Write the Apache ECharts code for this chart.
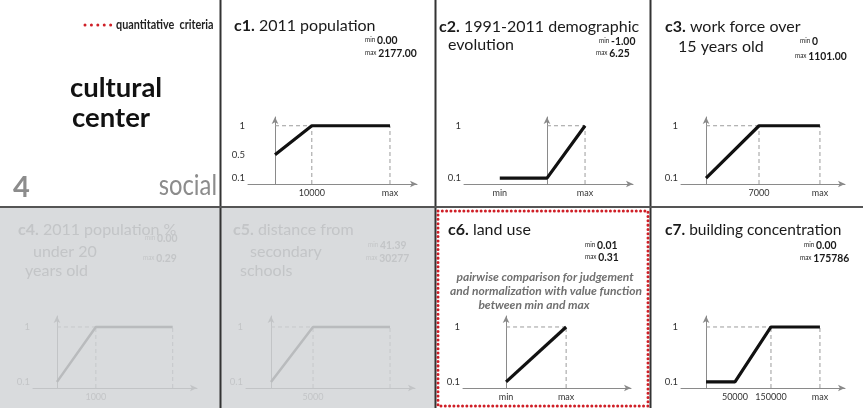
<!DOCTYPE html>
<html>
<head>
<meta charset="utf-8">
<script src="https://cdn.jsdelivr.net/npm/echarts@6/dist/echarts.min.js"></script>
<style>
html, body { margin: 0; padding: 0; background: #fff; }
#chart { width: 863px; height: 408px; }
</style>
</head>
<body>
<div id="chart"></div>
<script>
// ---- criteria of the "cultural center" (social) scheme ----
const codes = ['c1.', 'c2.', 'c3.', 'c4.', 'c5.', 'c6.', 'c7.'];
const titleFirst = ['2011 population', '1991-2011 demographic', 'work force over', '2011 population %', 'distance from', 'land use', 'building concentration'];
const titleMore = [[], ['evolution'], ['15 years old'], ['under 20', 'years old'], ['secondary', 'schools'], [], []];
const minValues = ['0.00', '-1.00', '0', '0.00', '41.39', '0.01', '0.00'];
const maxValues = ['2177.00', '6.25', '1101.00', '0.29', '30277', '0.31', '175786'];
// criteria still in use (c4, c5 are greyed out)
const active = [true, true, true, false, false, true, true];

// value functions: knots on a schematic axis (y axis at 0, "max" at 1), score 0.1..1
const knotX = [[0, 0.32, 1], [-1.24, 0, 1], [0, 0.465, 1], [0, 0.336, 1], [0, 0.353, 1], [0, 1], [0, 0.254, 0.57, 1]];
const knotY = [[0.5, 1, 1], [0.1, 0.1, 1], [0.1, 1, 1], [0.1, 1, 1], [0.1, 1, 1], [0.1, 1], [0.1, 0.1, 1, 1]];
const xTickAt = [[0.32, 1], [-1.24, 1], [0.465, 1], [0.336], [0.353], [0, 1], [0.254, 0.57, 1]];
const xTickText = [['10000', 'max'], ['min', 'max'], ['7000', 'max'], ['1000'], ['5000'], ['min', 'max'], ['50000', '150000', 'max']];
const yTickAt = [[0.1, 0.5, 1], [0.1, 1], [0.1, 1], [0.1, 1], [0.1, 1], [0.1, 1], [0.1, 1]];

// ---- layout ----
const layout = [
  { grid: [248, 117, 169, 67], xr: [-0.235, 1.235], yMax: 1.15, title: [234, 26], more: [], min: [365, 40], max: [365, 53] },
  { grid: [464, 117, 169, 67], xr: [-2.18, 2.26], yMax: 1.15, title: [439, 27], more: [[448, 45]], min: [599, 41], max: [596, 53] },
  { grid: [681, 117, 164, 67], xr: [-0.22, 1.22], yMax: 1.15, title: [665, 27], more: [[678, 47]], min: [800, 41], max: [795, 56] },
  { grid: [33, 316, 164, 72], xr: [-0.207, 1.21], yMax: 1.18, title: [18, 230], more: [[33, 252], [25, 271]], min: [145, 238], max: [143, 258] },
  { grid: [246, 316, 169, 72], xr: [-0.21, 1.21], yMax: 1.18, title: [233, 230], more: [[250, 252], [240, 271]], min: [368, 245], max: [366, 258] },
  { grid: [463, 316, 168, 72], xr: [-0.717, 2.08], yMax: 1.18, title: [448, 230], more: [], min: [585, 245], max: [585, 257] },
  { grid: [681, 316, 164, 72], xr: [-0.22, 1.22], yMax: 1.18, title: [665, 230], more: [], min: [804, 245], max: [800, 258] }
];

const SANS = 'Lato, "Open Sans", sans-serif';
const ON = { text: '#1a1a1a', axis: '#8a8a8a', label: '#333', line: '#111', guide: '#9c9c9c' };
const OFF = { text: '#c3c5c7', axis: '#c2c4c6', label: '#c3c5c7', line: '#b9bbbd', guide: '#c6c8ca' };

const grids = [], xAxes = [], yAxes = [], series = [], graphics = [];

// cell backgrounds and separators
graphics.push(
  { type: 'rect', silent: true, shape: { x: 0, y: 208, width: 220, height: 200 }, style: { fill: '#d9dbdd' } },
  { type: 'rect', silent: true, shape: { x: 221, y: 208, width: 214, height: 200 }, style: { fill: '#d9dbdd' } },
  { type: 'line', silent: true, shape: { x1: 220.5, y1: 0, x2: 220.5, y2: 408 }, style: { stroke: '#333', lineWidth: 2 } },
  { type: 'line', silent: true, shape: { x1: 435.5, y1: 0, x2: 435.5, y2: 408 }, style: { stroke: '#333', lineWidth: 2 } },
  { type: 'line', silent: true, shape: { x1: 650.5, y1: 0, x2: 650.5, y2: 408 }, style: { stroke: '#333', lineWidth: 2 } },
  { type: 'line', silent: true, shape: { x1: 0, y1: 207, x2: 863, y2: 207 }, style: { stroke: '#555', lineWidth: 2 } },
  // quantitative-criteria frame around c6
  { type: 'rect', silent: true, shape: { x: 438, y: 211, width: 210, height: 195 },
    style: { fill: 'none', stroke: '#cf1f27', lineWidth: 3, lineDash: [0.01, 4.3], lineCap: 'round' } }
);

// text helper; sx narrows the glyphs horizontally around the anchor
function text(x, y, str, style, sx) {
  return { type: 'text', silent: true, x: x, y: y, scaleX: sx || 1,
    style: Object.assign({ text: str, fill: '#1a1a1a', fontFamily: SANS, fontSize: 16, align: 'left', verticalAlign: 'middle' }, style) };
}

// header cell
graphics.push(
  { type: 'line', silent: true, shape: { x1: 85, y1: 25, x2: 111, y2: 25 },
    style: { stroke: '#cf1f27', lineWidth: 3, lineDash: [0.01, 6.4], lineCap: 'round' } },
  text(116, 25, 'quantitative  criteria', { fontSize: 13.5, fontWeight: 'bold', fill: '#222' }, 0.8),
  text(70, 88, 'cultural', { fontSize: 27.5, fontWeight: 'bold', fill: '#111' }),
  text(72, 118, 'center', { fontSize: 27.5, fontWeight: 'bold', fill: '#111' }),
  text(13, 188, '4', { fontSize: 29, fontWeight: 'bold', fill: '#8c8c8c' }),
  text(217, 186, 'social', { fontSize: 29, fill: '#8c8c8c', align: 'right' }, 0.82)
);

// c6 note
const noteLines = ['pairwise comparison for judgement', 'and normalization with value function', 'between min and max'];
const noteAt = [[545, 277], [546, 291], [534, 305]];
noteLines.forEach(function (s, k) {
  graphics.push(text(noteAt[k][0], noteAt[k][1], s, { fontSize: 12, fontWeight: 'bold', fontStyle: 'italic', fill: '#707070', align: 'center' }));
});

codes.forEach(function (code, i) {
  const L = layout[i];
  const C = active[i] ? ON : OFF;

  // titles and range
  graphics.push(text(L.title[0], L.title[1], '{b|' + code + '} ' + titleFirst[i], {
    fill: C.text, fontSize: 16,
    rich: { b: { fontWeight: 'bold', fontSize: 16, fontFamily: SANS, fill: C.text } }
  }, i === 6 ? 0.97 : 1));
  titleMore[i].forEach(function (s, k) {
    graphics.push(text(L.more[k][0], L.more[k][1], s, { fill: C.text, fontSize: 16 }));
  });
  const rangeRich = {
    s: { fontSize: 7, fontFamily: SANS, fill: C.text },
    v: { fontSize: 11.5, fontWeight: 'bold', fontFamily: SANS, fill: C.text }
  };
  graphics.push(text(L.min[0], L.min[1], '{s|min} {v|' + minValues[i] + '}', { fill: C.text, rich: rangeRich, fontSize: 8 }, 0.9));
  graphics.push(text(L.max[0], L.max[1], '{s|max} {v|' + maxValues[i] + '}', { fill: C.text, rich: rangeRich, fontSize: 8 }, 0.9));

  // mini chart
  grids.push({ left: L.grid[0], top: L.grid[1], width: L.grid[2], height: L.grid[3], containLabel: false });
  const axisLine = { show: true, onZero: true, symbol: ['none', 'arrow'], symbolSize: [5, 7], lineStyle: { color: C.axis, width: 1 } };
  xAxes.push({
    gridIndex: i, type: 'value', min: L.xr[0], max: L.xr[1],
    axisLine: axisLine, axisTick: { show: false }, splitLine: { show: false },
    axisLabel: {
      customValues: xTickAt[i], margin: 5, fontSize: 9, fontFamily: SANS, color: C.label,
      formatter: function (v) {
        const k = xTickAt[i].findIndex(function (t) { return Math.abs(t - v) < 1e-6; });
        return k >= 0 ? xTickText[i][k] : '';
      }
    }
  });
  yAxes.push({
    gridIndex: i, type: 'value', min: 0, max: L.yMax,
    axisLine: axisLine, axisTick: { show: false }, splitLine: { show: false },
    axisLabel: { customValues: yTickAt[i], margin: 3, fontSize: 9.5, fontFamily: SANS, color: C.label,
      formatter: function (v) { return String(v); } }
  });

  // dashed guides from the knots: up to the first full score, and at max
  const xs = knotX[i], ys = knotY[i];
  const xOne = xs[ys.indexOf(1)];
  const segs = [];
  if (xOne > 0) segs.push([[0, 1], [xOne, 1]]);
  segs.push([[xOne, 0], [xOne, 1]]);
  const xMax = xs[xs.length - 1];
  if (xMax !== xOne) segs.push([[xMax, 0], [xMax, 1]]);
  segs.forEach(function (seg) {
    series.push({ type: 'line', xAxisIndex: i, yAxisIndex: i, data: seg, symbol: 'none', silent: true, z: 1,
      lineStyle: { color: C.guide, width: 1, type: [4, 3] } });
  });

  series.push({
    type: 'line', xAxisIndex: i, yAxisIndex: i, symbol: 'none', silent: true, z: 3,
    data: xs.map(function (x, j) { return [x, ys[j]]; }),
    lineStyle: { color: C.line, width: active[i] ? 3.2 : 2.5 }
  });
});

const chart = echarts.init(document.getElementById('chart'), null, { renderer: 'canvas' });
chart.setOption({
  animation: false,
  backgroundColor: '#ffffff',
  grid: grids,
  xAxis: xAxes,
  yAxis: yAxes,
  series: series,
  graphic: { elements: graphics }
});
</script>
</body>
</html>
